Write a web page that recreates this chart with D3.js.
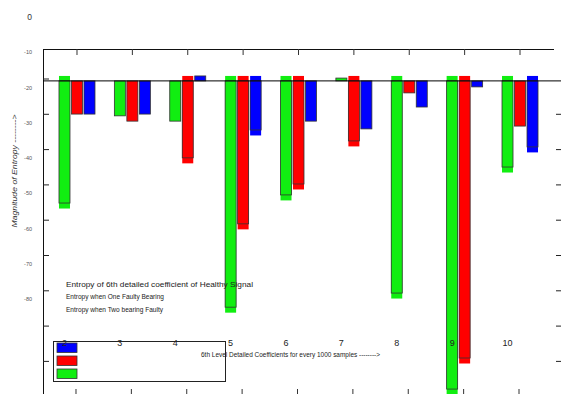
<!DOCTYPE html>
<html><head><meta charset="utf-8">
<script src="https://cdn.jsdelivr.net/npm/d3@7"></script>
<style>html,body{margin:0;padding:0;background:#fff;}svg{display:block;font-family:"Liberation Sans",Arial,sans-serif;}</style>
</head><body>
<svg id="c" width="561" height="394"></svg>
<script>
const categories = ["2","3","4","5","6","7","8","9","10"];
const seriesNames = ["Entropy when Two bearing Faulty","Entropy when One Faulty Bearing","Entropy of 6th detailed coefficient of Healthy Signal"];
const greenValues = [-52.7,-28.0,-29.5,-82.2,-50.4,-17.3,-78.2,-105.4,-42.5];
const redValues   = [-27.5,-29.5,-39.9,-58.6,-47.3,-35.1,-21.5,-96.6,-30.9];
const blueValues  = [-27.5,-27.5,-16.7,-32.0,-29.5,-31.7,-25.5,-19.8,-36.8];
const greenShadow = [1,0,0,1,1,0,1,1,1];
const redShadow   = [0,0,1,1,1,1,0,1,0];
const blueShadow  = [0,0,0,1,0,0,0,0,1];
const yLabelValues = [0,-10,-20,-30,-40,-50,-60,-70,-80];
const yTickValues = [-20,-30,-40,-50,-60,-70,-80,-90,-100];
const baselineValue = -18.1;
const shadowTopValue = -16.7;
const legendOrder = ["Entropy of 6th detailed coefficient of Healthy Signal","Entropy when One Faulty Bearing","Entropy when Two bearing Faulty"];
const xTitle = "6th Level Detailed Coefficients for every 1000 samples -------->";
const yTitle = "Magnitude of  Entropy -------->";

const colors = {"Entropy when Two bearing Faulty":"#11ee11","Entropy when One Faulty Bearing":"#ff0000","Entropy of 6th detailed coefficient of Healthy Signal":"#0000ff"};
const values = [greenValues, redValues, blueValues];
const shadows = [greenShadow, redShadow, blueShadow];

const svg = d3.select("#c");
const y = d3.scaleLinear().domain([0,-100]).range([17,370]);
const x0 = d3.scaleBand().domain(categories).range([49.3,547.7]).padding(0);
const x1 = d3.scaleBand().domain(seriesNames).range([-18,18]).paddingInner(0.12);

// frame lines
svg.append("line").attr("x1",43).attr("x2",554).attr("y1",49.5).attr("y2",49.5).attr("stroke","#111");
svg.append("line").attr("x1",43.5).attr("x2",43.5).attr("y1",49).attr("y2",394).attr("stroke","#111");

// top ticks
svg.selectAll(".tt").data(categories).enter().append("line")
  .attr("x1",d=>x0(d)+x0.bandwidth()/2).attr("x2",d=>x0(d)+x0.bandwidth()/2)
  .attr("y1",49).attr("y2",55).attr("stroke","#333");
// bottom ticks
svg.selectAll(".bt").data(categories).enter().append("line")
  .attr("x1",d=>x0(d)+x0.bandwidth()/2-1).attr("x2",d=>x0(d)+x0.bandwidth()/2-1)
  .attr("y1",389).attr("y2",394).attr("stroke","#333");

// left ticks (offset from labels)
svg.selectAll(".lt").data(yTickValues).enter().append("line")
  .attr("x1",43).attr("x2",49).attr("y1",d=>y(d)-8.6).attr("y2",d=>y(d)-8.6).attr("stroke","#222");
// right ticks
svg.selectAll(".rt").data(yTickValues.slice(1)).enter().append("line")
  .attr("x1",556).attr("x2",561).attr("y1",d=>y(d)-8.6).attr("y2",d=>y(d)-8.6).attr("stroke","#222");

// y labels
svg.selectAll(".yl").data(yLabelValues).enter().append("text")
  .attr("x",32).attr("y",d=>y(d)).attr("dy","0.35em").attr("text-anchor","end")
  .attr("font-size",d=>d===0?8.5:5.5).attr("fill",d=>d===0?"#333":"#555")
  .text(d=>d);

// bars
const g = svg.append("g");
seriesNames.forEach((s,si)=>{
  categories.forEach((c,ci)=>{
    const v = values[si][ci];
    const bx = x0(c)+x0.bandwidth()/2 + x1(s);
    if (shadows[si][ci]) {
      g.append("rect").attr("x",bx).attr("width",x1.bandwidth())
        .attr("y",y(shadowTopValue)).attr("height",y(v)-y(shadowTopValue)+5.5)
        .attr("fill",colors[s]);
    }
    const top = Math.min(y(v),y(baselineValue)), bot = Math.max(y(v),y(baselineValue));
    g.append("rect").attr("x",bx).attr("width",x1.bandwidth())
      .attr("y",top).attr("height",bot-top)
      .attr("fill",colors[s]).attr("stroke","#333").attr("stroke-width",0.8);
  });
});

// baseline
svg.append("line").attr("x1",43).attr("x2",561).attr("y1",y(baselineValue)).attr("y2",y(baselineValue)).attr("stroke","#000");

// legend box
svg.append("rect").attr("x",53.5).attr("y",341.5).attr("width",172).attr("height",40).attr("fill","#fff").attr("stroke","#222");
legendOrder.forEach((s,i)=>{
  svg.append("rect").attr("x",57).attr("y",343+i*13).attr("width",20).attr("height",9.5)
    .attr("fill",colors[s]).attr("stroke","#333").attr("stroke-width",0.8);
});

// legend texts (titles)
const lt = [{t:legendOrder[0],y:284,w:187,fs:8},{t:legendOrder[1],y:297,w:98,fs:7},{t:legendOrder[2],y:310,w:97,fs:7}];
lt.forEach(d=>{
  svg.append("text").attr("x",66).attr("y",d.y).attr("dy","0.35em").attr("font-size",d.fs)
    .attr("fill","#222").attr("textLength",d.w).attr("lengthAdjust","spacingAndGlyphs").text(d.t);
});

// category labels
svg.selectAll(".cl").data(categories).enter().append("text")
  .attr("x",d=>x0(d)+x0.bandwidth()/2 + x1(seriesNames[0]) + x1.bandwidth()/2)
  .attr("y",343).attr("dy","0.35em").attr("text-anchor","middle")
  .attr("font-size",9).attr("fill","#222").text(d=>d);

// x title
svg.append("text").attr("x",201).attr("y",355).attr("dy","0.35em").attr("font-size",7)
  .attr("fill","#222").attr("textLength",179).attr("lengthAdjust","spacingAndGlyphs").text(xTitle);

// y title
svg.append("text").attr("transform","translate(14,171) rotate(-90)").attr("text-anchor","middle")
  .attr("dy","0.35em").attr("font-size",7.5).attr("font-style","italic").attr("fill","#333")
  .attr("textLength",113).attr("lengthAdjust","spacingAndGlyphs").text(yTitle);
</script>
</body></html>
